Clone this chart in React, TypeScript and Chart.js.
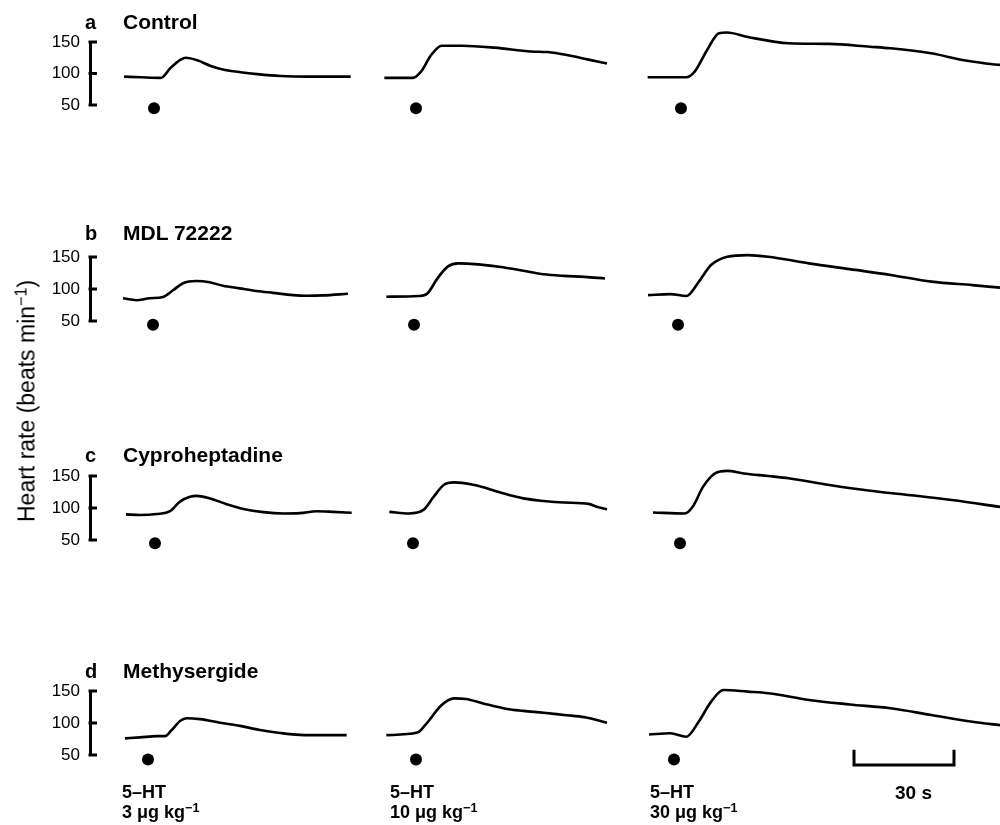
import React, { useEffect, useRef } from "react";
import { Chart, registerables } from "chart.js";

Chart.register(...registerables);

// ---- Data: time (s) relative to 5-HT injection, heart rate (beats min-1) ----
// Row a: Control
const a1T = [-9, -4, 2, 5, 8, 9.5, 13, 17, 21, 26, 31, 38, 46, 59];
const a1V = [95, 94, 93, 109, 122, 125, 121, 112, 106, 102, 99, 96, 95, 95];
const a2T = [-9.5, -1, 1.5, 4.5, 7.7, 13.8, 23.6, 34.5, 39.5, 45.6, 51.8, 57.3];
const a2V = [93, 93, 103, 129, 144, 144, 141, 135, 134, 129, 122, 116];
const a3T = [-10, 1.6, 4.1, 7.8, 11.4, 13.8, 20, 32.3, 44.4, 56.7, 62.9, 75, 84.9, 91.4, 97];
const a3V = [94, 94, 103, 137, 164, 165, 158, 148, 147, 142.5, 140, 132, 121, 116, 113];
// Row b: MDL 72222
const b1T = [-9, -5, -1, 3, 6, 9, 13, 17, 21, 26, 31, 36, 42, 46, 51, 58.5];
const b1V = [85.5, 82.5, 85.5, 87.5, 98, 109, 112.5, 110.5, 105, 101, 97, 94, 90.5, 89.5, 90, 92.5];
const b2T = [-8.3, 1.5, 4, 7.1, 10.1, 13.2, 19.3, 26.7, 32.8, 38.9, 45, 51.2, 57.3];
const b2V = [88, 89, 93, 117, 135, 140, 138.5, 134, 128.5, 123, 120.5, 119, 116.5];
const b3T = [-9, -2.3, 2.5, 6.2, 9.9, 14.8, 20.9, 27, 39.3, 51.5, 63.8, 76, 88.3, 97];
const b3V = [90.5, 92, 89, 111, 137.5, 150.5, 153, 150.5, 140, 131, 122, 111.5, 106, 102];
// Row c: Cyproheptadine
const c1T = [-8.7, -4.5, 0.5, 4.5, 7.5, 10.5, 12.5, 16.5, 21.5, 26.5, 32.5, 38.5, 43.5, 48.5, 53.5, 59];
const c1V = [90, 89, 90.5, 95, 110, 117.5, 119, 115, 106, 98.5, 93.5, 91.5, 92, 95, 94, 92.5];
const c2T = [-7.1, -1.2, 3.1, 6.2, 9.2, 12.3, 18.4, 20.8, 27, 33.1, 39.2, 45.3, 52.7, 55.1, 58.2];
const c2V = [94, 91.5, 97, 117.5, 136, 140, 136, 133, 123, 115, 111, 108.5, 106.5, 102, 98];
const c3T = [-8.1, 1.4, 3.8, 6.9, 10.5, 14.2, 19.1, 26.5, 32.6, 44.8, 57.1, 69.3, 81.5, 97];
const c3V = [93, 91.5, 102, 133, 154, 158, 154, 150, 146.5, 136, 127, 120, 112.5, 101];
// Row d: Methysergide
const d1T = [-6.9, -2.4, 2.6, 5.1, 7.1, 9.6, 11.6, 15.6, 21.6, 27.6, 33.6, 39.6, 45.6, 52.6, 59.6];
const d1V = [76, 77.5, 79.5, 79.5, 89, 103, 107.5, 106, 100.5, 95.5, 89, 84.5, 81.5, 81, 81];
const d2T = [-8.9, 0.4, 2.8, 7.7, 11.4, 15, 19.9, 27.3, 32.2, 38.3, 44.4, 50.6, 57.3];
const d2V = [81, 85, 97, 128, 138.5, 137.5, 131, 122, 119, 116, 112.5, 109, 100.5];
const d3T = [-7.5, -1.1, 3.7, 7.4, 11.1, 14.8, 22.1, 28.3, 40.5, 52.7, 65, 77.2, 89.5, 98];
const d3V = [82, 84, 78.5, 102, 133, 151.5, 149, 146.5, 136, 129, 123, 112.5, 102, 96.5];

// Injection times on the recording time axis (s), one per dose
const injA = [19.2, 97.8, 177.3];
const injB = [18.9, 97.2, 176.4];
const injC = [19.5, 96.9, 177.0];
const injD = [17.4, 97.8, 175.2];

// Level at which the injection marker dot sits (beats min-1)
const dotLevels = [45, 44, 45, 43];

const rowLetters = ["a", "b", "c", "d"];
const rowTitles = ["Control", "MDL 72222", "Cyproheptadine", "Methysergide"];
const doseLabels = ["3", "10", "30"];
const yTicks = [50, 100, 150];
const scaleBarStart = 229.2; // s
const scaleBarSeconds = 30;

// ---- Layout ----
const FONT = "'Liberation Sans', Arial, Helvetica, sans-serif";
const AXIS_LEFT = 90;
const X_MAX = 273; // seconds across the 910 px wide plot area
const rowTop150 = [42, 257, 476, 691];
const rowHeights = [63, 64, 64, 64];
const PAD = 40;

type Row = { times: number[][]; values: number[][]; inj: number[] };
const rows: Row[] = [
  { times: [a1T, a2T, a3T], values: [a1V, a2V, a3V], inj: injA },
  { times: [b1T, b2T, b3T], values: [b1V, b2V, b3V], inj: injB },
  { times: [c1T, c2T, c3T], values: [c1V, c2V, c3V], inj: injC },
  { times: [d1T, d2T, d3T], values: [d1V, d2V, d3V], inj: injD },
];

const innerTicks = {
  id: "innerTicks",
  afterDraw(chart: any) {
    const y = chart.scales.y;
    const ctx = chart.ctx;
    const left = chart.chartArea.left;
    ctx.save();
    ctx.strokeStyle = "#000";
    ctx.lineWidth = 3;
    ctx.lineCap = "butt";
    yTicks.forEach((v) => {
      const py = y.getPixelForValue(v);
      ctx.beginPath();
      ctx.moveTo(left - 1.5, py);
      ctx.lineTo(left + 7, py);
      ctx.stroke();
    });
    ctx.restore();
  },
};

function RowChart({ index }: { index: number }) {
  const ref = useRef<HTMLCanvasElement | null>(null);
  const h = PAD + rowHeights[index] + PAD + (index === 3 ? 10 : 0);
  useEffect(() => {
    const row = rows[index];
    const datasets: any[] = [];
    row.times.forEach((ts, k) => {
      datasets.push({
        type: "line",
        data: ts.map((t, i) => ({ x: row.inj[k] + t, y: row.values[k][i] })),
        borderColor: "#000",
        borderWidth: 2.6,
        pointRadius: 0,
        cubicInterpolationMode: "monotone",
        fill: false,
        clip: false,
      });
      datasets.push({
        type: "scatter",
        data: [{ x: row.inj[k], y: dotLevels[index] }],
        backgroundColor: "#000",
        borderColor: "#000",
        pointRadius: 6,
        pointBorderWidth: 0,
        clip: false,
      });
    });
    if (index === 3) {
      datasets.push({
        type: "line",
        data: [
          { x: scaleBarStart, y: 56 },
          { x: scaleBarStart, y: 34.5 },
          { x: scaleBarStart + scaleBarSeconds, y: 34.5 },
          { x: scaleBarStart + scaleBarSeconds, y: 56 },
        ],
        borderColor: "#000",
        borderWidth: 3,
        pointRadius: 0,
        tension: 0,
        clip: false,
        borderCapStyle: "square",
      });
    }
    const chart = new Chart(ref.current as HTMLCanvasElement, {
      type: "line",
      data: { datasets },
      plugins: [innerTicks],
      options: {
        animation: false,
        responsive: false,
        devicePixelRatio: 1,
        events: [],
        layout: {
          autoPadding: false,
          padding: { top: PAD, bottom: h - PAD - rowHeights[index], left: 0, right: 0 },
        },
        plugins: { legend: { display: false }, tooltip: { enabled: false }, title: { display: false } },
        scales: {
          x: { type: "linear", min: 0, max: X_MAX, display: false },
          y: {
            type: "linear",
            min: 50,
            max: 150,
            afterFit: (axis: any) => {
              axis.width = AXIS_LEFT;
            },
            afterBuildTicks: (axis: any) => {
              axis.ticks = yTicks.map((v) => ({ value: v }));
            },
            grid: { display: false, drawTicks: false },
            border: { display: true, color: "#000", width: 3 },
            ticks: {
              color: "#000",
              padding: 10,
              font: { family: FONT, size: 17 },
            },
          },
        },
      } as any,
    });
    return () => chart.destroy();
  }, [index]);
  return (
    <canvas
      ref={ref}
      width={1000}
      height={h}
      style={{ position: "absolute", left: 0, top: rowTop150[index] - PAD, width: 1000, height: h }}
    />
  );
}

function Label({
  x,
  baseline,
  size,
  weight = 400,
  children,
}: {
  x: number;
  baseline: number;
  size: number;
  weight?: number;
  children: React.ReactNode;
}) {
  return (
    <div
      style={{
        position: "absolute",
        left: x,
        top: baseline - 0.8465 * size,
        fontFamily: FONT,
        fontSize: size,
        fontWeight: weight,
        lineHeight: `${size}px`,
        whiteSpace: "nowrap",
        color: "#000",
      }}
    >
      {children}
    </div>
  );
}

const Sup = ({ children }: { children: React.ReactNode }) => (
  <span style={{ fontSize: "0.7em", verticalAlign: "0.5em", lineHeight: 0 }}>{children}</span>
);

export default function App() {
  const titleBaselines = [29, 240, 462, 678];
  const doseX = [122, 390, 650];
  return (
    <div
      style={{
        position: "fixed",
        left: 0,
        top: 0,
        width: 1000,
        height: 825,
        background: "#fff",
        overflow: "hidden",
      }}
    >
      {[0, 1, 2, 3].map((i) => (
        <RowChart key={i} index={i} />
      ))}
      {rowTitles.map((t, i) => (
        <React.Fragment key={t}>
          <Label x={85} baseline={titleBaselines[i]} size={20} weight={700}>
            {rowLetters[i]}
          </Label>
          <Label x={123} baseline={titleBaselines[i]} size={21} weight={700}>
            {t}
          </Label>
        </React.Fragment>
      ))}
      {doseLabels.map((d, i) => (
        <React.Fragment key={d}>
          <Label x={doseX[i]} baseline={798} size={18} weight={700}>
            5–HT
          </Label>
          <Label x={doseX[i]} baseline={818} size={18} weight={700}>
            {d} μg kg<Sup>−1</Sup>
          </Label>
        </React.Fragment>
      ))}
      <Label x={895} baseline={799} size={19} weight={700}>
        30 s
      </Label>
      <div
        style={{
          position: "absolute",
          left: 27,
          top: 401,
          transform: "translate(-50%, -50%) rotate(-90deg)",
          fontFamily: FONT,
          fontSize: 23,
          lineHeight: "23px",
          whiteSpace: "nowrap",
          color: "#000",
        }}
      >
        Heart rate (beats min<Sup>−1</Sup>)
      </div>
    </div>
  );
}
